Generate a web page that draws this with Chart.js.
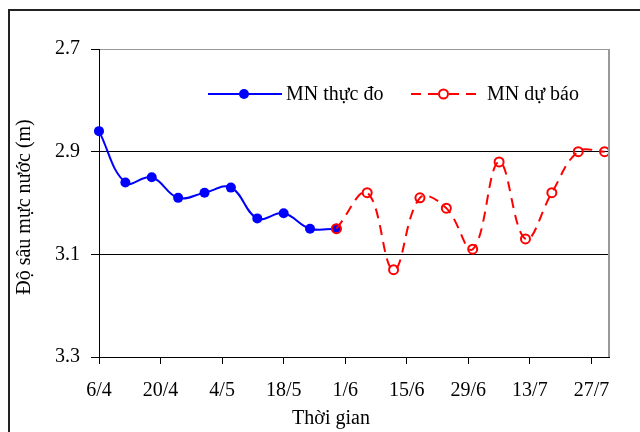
<!DOCTYPE html>
<html>
<head>
<meta charset="utf-8">
<script src="https://cdn.jsdelivr.net/npm/chart.js@4/dist/chart.umd.min.js"></script>
<style>
  html, body { margin: 0; padding: 0; background: #fff; }
  #wrap { width: 640px; height: 432px; }
</style>
</head>
<body>
<div id="wrap"><canvas id="c" width="640" height="432"></canvas></div>
<script>
// Observed water depth (m) by date
const measuredDates  = ['6/4', '12/4', '18/4', '24/4', '30/4', '6/5', '12/5', '18/5', '24/5', '30/5'];
const measuredDepths = [2.86, 2.96, 2.95, 2.99, 2.98, 2.97, 3.03, 3.02, 3.05, 3.05];

// Forecast water depth (m) by date
const forecastDates  = ['30/5', '6/6', '12/6', '18/6', '24/6', '30/6', '6/7', '12/7', '18/7', '24/7', '30/7'];
const forecastDepths = [3.05, 2.98, 3.13, 2.99, 3.01, 3.09, 2.92, 3.07, 2.98, 2.90, 2.90];

// Axis labels
const xTickLabels = ['6/4', '20/4', '4/5', '18/5', '1/6', '15/6', '29/6', '13/7', '27/7'];
const yTickValues = [2.7, 2.9, 3.1, 3.3];
const seriesNames = ['MN thực đo', 'MN dự báo'];
const xTitle = 'Thời gian';
const yTitle = 'Độ sâu mực nước (m)';
const axisStart = '6/4';
const axisEnd = '31/7';

// day number counted from the first date on the axis
function dayOf(label) {
  const [d, m] = label.split('/').map(Number);
  return Date.UTC(2001, m - 1, d) / 86400000;
}
const day0 = dayOf(axisStart);
const toDay = s => dayOf(s) - day0;
const points = (dates, vals) => dates.map((s, i) => ({ x: toDay(s), y: vals[i] }));

const FONT = "'Liberation Serif', 'Times New Roman', serif";
const BLUE = '#0000ff';
const RED = '#ff0000';

// outer frame, plot frame, axis titles and legend
const decor = {
  id: 'decor',
  beforeDraw(chart) {
    const ctx = chart.ctx;
    ctx.save();
    ctx.fillStyle = '#fff';
    ctx.fillRect(0, 0, chart.width, chart.height);
    ctx.strokeStyle = '#222';
    ctx.lineWidth = 2;
    ctx.strokeRect(9, 10, chart.width + 20, chart.height + 20);
    ctx.restore();
  },
  afterDatasetsDraw(chart) {
    const ctx = chart.ctx;
    const a = chart.chartArea;
    ctx.save();
    // right edge of the plot area
    ctx.strokeStyle = '#999';
    ctx.lineWidth = 2;
    ctx.beginPath();
    ctx.moveTo(a.right, a.top);
    ctx.lineTo(a.right, a.bottom);
    ctx.stroke();

    ctx.fillStyle = '#000';
    ctx.font = '20px ' + FONT;
    ctx.textBaseline = 'middle';
    ctx.textAlign = 'center';
    ctx.fillText(xTitle, 331, 419);
    ctx.save();
    ctx.translate(25, 207);
    ctx.rotate(-Math.PI / 2);
    ctx.fillText(yTitle, 0, 0);
    ctx.restore();

    // legend
    const ly = 94;
    ctx.lineWidth = 2;
    ctx.strokeStyle = BLUE;
    ctx.beginPath(); ctx.moveTo(208, ly); ctx.lineTo(282, ly); ctx.stroke();
    ctx.fillStyle = BLUE;
    ctx.beginPath(); ctx.arc(244, ly, 5, 0, Math.PI * 2); ctx.fill();

    ctx.strokeStyle = RED;
    ctx.setLineDash([10, 7]);
    ctx.beginPath(); ctx.moveTo(411, ly); ctx.lineTo(438, ly); ctx.stroke();
    ctx.beginPath(); ctx.moveTo(449, ly); ctx.lineTo(482, ly); ctx.stroke();
    ctx.setLineDash([]);
    ctx.beginPath(); ctx.arc(443.5, ly, 4.5, 0, Math.PI * 2);
    ctx.fillStyle = '#fff'; ctx.fill(); ctx.stroke();

    ctx.fillStyle = '#000';
    ctx.textAlign = 'left';
    ctx.fillText(seriesNames[0], 286, ly + 1);
    ctx.fillText(seriesNames[1], 487, ly + 1);
    ctx.restore();
  }
};

new Chart(document.getElementById('c'), {
  type: 'line',
  data: {
    datasets: [
      {
        label: seriesNames[1],
        data: points(forecastDates, forecastDepths),
        borderColor: RED,
        borderWidth: 2,
        borderDash: [10, 7],
        tension: 0.4,
        pointRadius: 4.5,
        pointBorderWidth: 2,
        pointBorderColor: RED,
        pointBackgroundColor: 'rgba(0,0,0,0)',
        clip: false
      },
      {
        label: seriesNames[0],
        data: points(measuredDates, measuredDepths),
        borderColor: BLUE,
        borderWidth: 2,
        tension: 0.4,
        pointRadius: 5,
        pointBorderWidth: 0,
        pointBackgroundColor: BLUE,
        pointBorderColor: BLUE,
        clip: false
      }
    ]
  },
  options: {
    responsive: false,
    animation: false,
    events: [],
    layout: { padding: { top: 49, right: 31, left: 0, bottom: 0 } },
    plugins: { legend: { display: false }, tooltip: { enabled: false } },
    scales: {
      x: {
        type: 'linear',
        min: 0,
        max: toDay(axisEnd),
        afterBuildTicks(scale) {
          scale.ticks = xTickLabels.map(s => ({ value: toDay(s) }));
        },
        afterFit(scale) { scale.height = 75; },
        ticks: {
          autoSkip: false,
          maxRotation: 0,
          padding: 15,
          color: '#000',
          font: { family: FONT, size: 20 },
          callback: v => xTickLabels[xTickLabels.findIndex(s => toDay(s) === v)]
        },
        grid: { drawOnChartArea: false, drawTicks: true, tickLength: 7, color: '#000' },
        border: { color: '#000', width: 1 }
      },
      y: {
        reverse: true,
        min: yTickValues[0],
        max: yTickValues[yTickValues.length - 1],
        afterBuildTicks(scale) {
          scale.ticks = yTickValues.map(v => ({ value: v }));
        },
        afterFit(scale) { scale.width = 99; },
        ticks: {
          padding: 11,
          color: '#000',
          font: { family: FONT, size: 20 },
          callback: v => Number(v).toFixed(1)
        },
        grid: {
          tickLength: 8,
          tickColor: '#000',
          lineWidth: 1,
          color: c => (c.tick && Math.abs(c.tick.value - yTickValues[0]) < 1e-9) ? '#999' : '#000'
        },
        border: { color: '#000', width: 1 }
      }
    }
  },
  plugins: [decor]
});
</script>
</body>
</html>
